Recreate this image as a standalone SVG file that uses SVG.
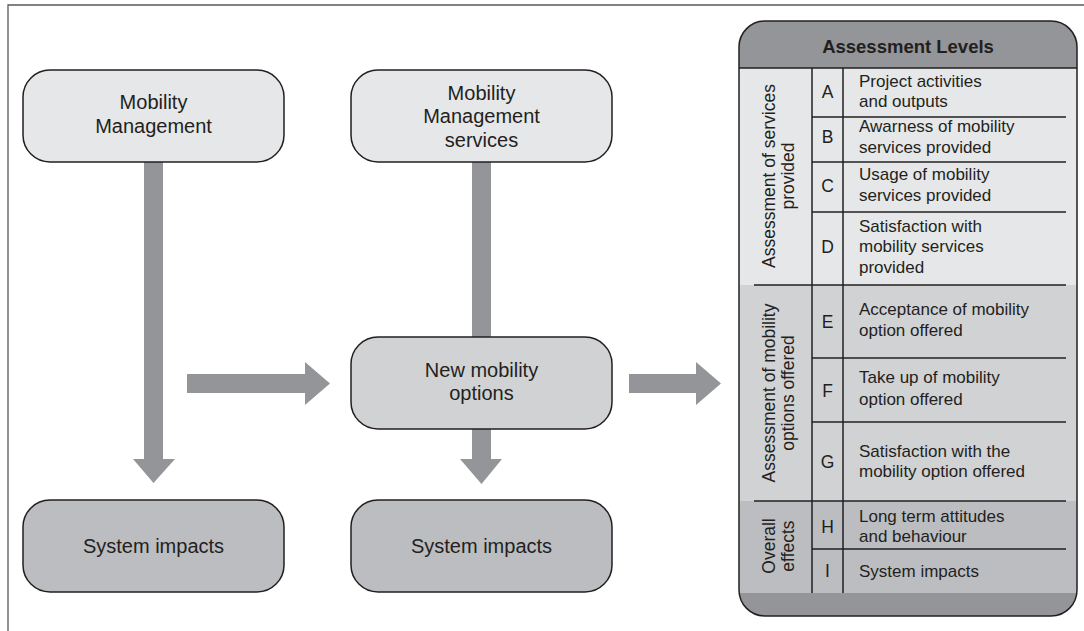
<svg xmlns="http://www.w3.org/2000/svg" width="1084" height="631" viewBox="0 0 1084 631">
<style>
.node{stroke:#231f20;stroke-width:1.5}
.l1{fill:#e6e7e8}
.l2{fill:#d1d2d4}
.l3{fill:#bcbdc0}
.arr{fill:#939598}
.t{font-family:"Liberation Sans",Arial,sans-serif;fill:#231f20}
.nt{font-size:20px;text-anchor:middle}
.pt{font-size:17px}
.lt{font-size:17.5px;text-anchor:middle}
.ln{stroke:#231f20;stroke-width:1.5;fill:none}
</style>
<defs>
<clipPath id="pc"><rect x="739" y="21" width="338" height="595" rx="26"/></clipPath>
</defs>
<rect width="1084" height="631" fill="#fff"/>
<path d="M8,631 V5 H1084" fill="none" stroke="#58595b" stroke-width="1.3"/>

<g id="connectors">
<polygon class="arr" points="144,162 163,162 163,459 175,459 153.5,483 133,459 144,459"/>
<polygon class="arr" points="472,162 491,162 491,337 472,337"/>
<polygon class="arr" points="472,429 491,429 491,459 502,459 481.5,484 460,459 472,459"/>
<polygon class="arr" points="187,374 305,374 305,362 330,383.5 305,405 305,393 187,393"/>
<polygon class="arr" points="629,374 696,374 696,362 721,383.5 696,405 696,393 629,393"/>
</g>

<g id="n-mm">
<rect class="node l1" x="23" y="70" width="261" height="92" rx="27"/>
<text class="t nt" x="153.5" y="109">Mobility</text>
<text class="t nt" x="153.5" y="133">Management</text>
</g>
<g id="n-mms">
<rect class="node l1" x="351" y="70" width="261" height="92" rx="27"/>
<text class="t nt" x="481.5" y="100">Mobility</text>
<text class="t nt" x="481.5" y="123">Management</text>
<text class="t nt" x="481.5" y="147">services</text>
</g>
<g id="n-nmo">
<rect class="node l2" x="351" y="337" width="261" height="92" rx="27"/>
<text class="t nt" x="481.5" y="377">New mobility</text>
<text class="t nt" x="481.5" y="400">options</text>
</g>
<g id="n-si1">
<rect class="node l3" x="23" y="500" width="261" height="92" rx="27"/>
<text class="t nt" x="153.5" y="553">System impacts</text>
</g>
<g id="n-si2">
<rect class="node l3" x="351" y="500" width="261" height="92" rx="27"/>
<text class="t nt" x="481.5" y="553">System impacts</text>
</g>

<g id="n-levels">
<g clip-path="url(#pc)">
<rect x="739" y="21" width="338" height="47" class="arr"/>
<rect x="739" y="68" width="338" height="217" class="l1"/>
<rect x="739" y="285" width="338" height="216" class="l2"/>
<rect x="739" y="501" width="338" height="92" class="l3"/>
<rect x="739" y="593" width="338" height="23" class="arr"/>
</g>
<line class="ln" x1="739" y1="68" x2="1077" y2="68" stroke-width="1"/>
<line class="ln" x1="812" y1="68" x2="812" y2="593"/>
<line class="ln" x1="843" y1="68" x2="843" y2="593"/>
<line class="ln" x1="812" y1="117" x2="1066" y2="117"/>
<line class="ln" x1="812" y1="162" x2="1066" y2="162"/>
<line class="ln" x1="812" y1="212" x2="1066" y2="212"/>
<line class="ln" x1="754" y1="285" x2="1066" y2="285"/>
<line class="ln" x1="812" y1="358" x2="1066" y2="358"/>
<line class="ln" x1="812" y1="422" x2="1066" y2="422"/>
<line class="ln" x1="754" y1="501" x2="1066" y2="501"/>
<line class="ln" x1="812" y1="549" x2="1066" y2="549"/>
<rect x="739" y="21" width="338" height="595" rx="26" fill="none" stroke="#231f20" stroke-width="1.5"/>

<text class="t" x="908" y="53" font-size="18.5" font-weight="bold" text-anchor="middle">Assessment Levels</text>

<text class="t lt" transform="translate(775,176) rotate(-90)">Assessment of services</text>
<text class="t lt" transform="translate(794,176) rotate(-90)">provided</text>
<text class="t lt" transform="translate(775,393) rotate(-90)">Assessment of mobility</text>
<text class="t lt" transform="translate(794,393) rotate(-90)">options offered</text>
<text class="t lt" transform="translate(775,546) rotate(-90)">Overall</text>
<text class="t lt" transform="translate(794,546) rotate(-90)">effects</text>

<text class="t lt" x="827.5" y="98">A</text>
<text class="t lt" x="827.5" y="143">B</text>
<text class="t lt" x="827.5" y="192">C</text>
<text class="t lt" x="827.5" y="253">D</text>
<text class="t lt" x="827.5" y="328">E</text>
<text class="t lt" x="827.5" y="397">F</text>
<text class="t lt" x="827.5" y="468">G</text>
<text class="t lt" x="827.5" y="533">H</text>
<text class="t lt" x="827.5" y="577">I</text>

<text class="t pt" x="859" y="87">Project activities</text>
<text class="t pt" x="859" y="107">and outputs</text>
<text class="t pt" x="859" y="132">Awarness of mobility</text>
<text class="t pt" x="859" y="153">services provided</text>
<text class="t pt" x="859" y="180">Usage of mobility</text>
<text class="t pt" x="859" y="201">services provided</text>
<text class="t pt" x="859" y="232">Satisfaction with</text>
<text class="t pt" x="859" y="252">mobility services</text>
<text class="t pt" x="859" y="273">provided</text>
<text class="t pt" x="859" y="315">Acceptance of mobility</text>
<text class="t pt" x="859" y="336">option offered</text>
<text class="t pt" x="859" y="383">Take up of mobility</text>
<text class="t pt" x="859" y="405">option offered</text>
<text class="t pt" x="859" y="457">Satisfaction with the</text>
<text class="t pt" x="859" y="477">mobility option offered</text>
<text class="t pt" x="859" y="522">Long term attitudes</text>
<text class="t pt" x="859" y="542">and behaviour</text>
<text class="t pt" x="859" y="577">System impacts</text>
</g>
</svg>
